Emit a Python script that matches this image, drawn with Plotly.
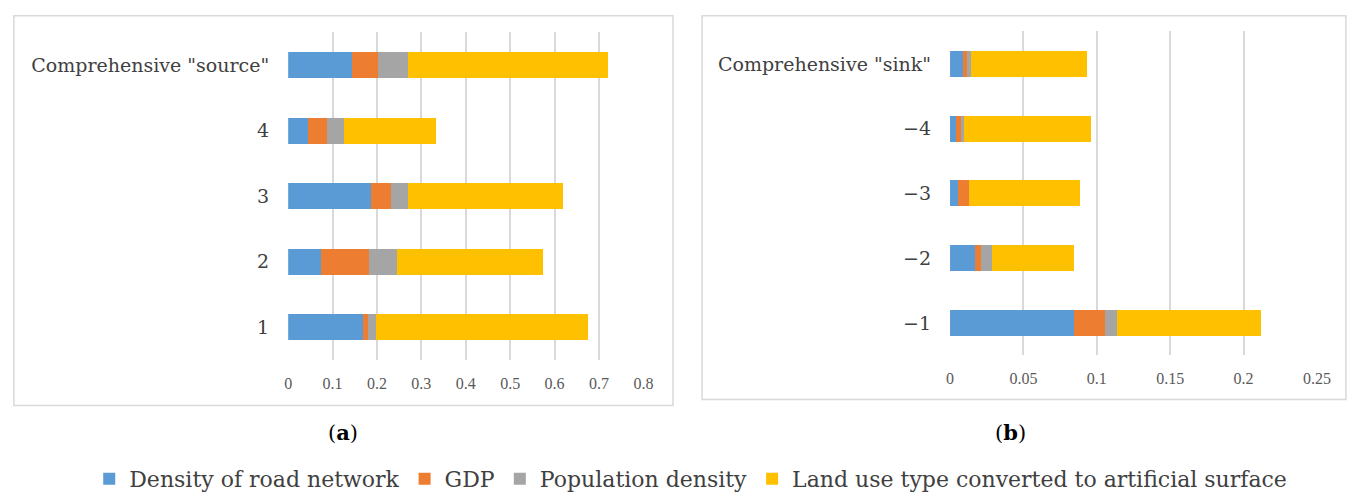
import plotly.graph_objects as go

W, H = 1352, 500

cats_a = ["1", "2", "3", "4", "Comprehensive \"source\""]
road_a = [0.168, 0.074, 0.186, 0.044, 0.143]
gdp_a = [0.012, 0.108, 0.045, 0.044, 0.060]
pop_a = [0.018, 0.063, 0.038, 0.038, 0.066]
land_a = [0.478, 0.329, 0.350, 0.208, 0.452]

cats_b = ["\u22121", "\u22122", "\u22123", "\u22124", "Comprehensive \"sink\""]
road_b = [0.0847, 0.0167, 0.0054, 0.0040, 0.0085]
gdp_b = [0.0207, 0.0046, 0.0077, 0.0037, 0.0030]
pop_b = [0.0083, 0.0071, 0.0000, 0.0017, 0.0030]
land_b = [0.0980, 0.0559, 0.0753, 0.0863, 0.0790]

series_names = ["Density of road network", "GDP", "Population density",
                "Land use type converted to artificial surface"]
colors = ["#5B9BD5", "#ED7D31", "#A5A5A5", "#FFC000"]

SERIF = "Liberation Serif"
WIDE = "DejaVu Serif"

fig = go.Figure()
for i, (name, vals) in enumerate(zip(series_names, [road_a, gdp_a, pop_a, land_a])):
    fig.add_trace(go.Bar(y=cats_a, x=vals, orientation="h", name=name,
                         marker=dict(color=colors[i], line=dict(width=0)),
                         xaxis="x", yaxis="y", legendgroup=name, showlegend=True))
for i, (name, vals) in enumerate(zip(series_names, [road_b, gdp_b, pop_b, land_b])):
    fig.add_trace(go.Bar(y=cats_b, x=vals, orientation="h", name=name,
                         marker=dict(color=colors[i], line=dict(width=0)),
                         xaxis="x2", yaxis="y2", legendgroup=name, showlegend=False))

def px(x):
    return x / W

def py(y):
    return 1 - y / H

grid = "#D9D9D9"
tickfont_x = dict(family=SERIF, size=16, color="#595959")
tickfont_y = dict(family=WIDE, size=19, color="#404040")

fig.update_layout(
    width=W, height=H,
    margin=dict(l=0, r=0, t=0, b=0),
    paper_bgcolor="white", plot_bgcolor="white",
    barmode="stack", bargap=0.6,
    font=dict(family=SERIF),
    xaxis=dict(domain=[px(288), px(648)], range=[0, 0.8], dtick=0.1, tickformat="~g",
               showgrid=True, gridcolor=grid, gridwidth=1.5, zeroline=False,
               showline=False, tickfont=tickfont_x, ticks="", ticklabelstandoff=12,
               anchor="y", fixedrange=True),
    yaxis=dict(domain=[py(366), py(33)], showgrid=False, zeroline=False, showline=False,
               tickfont=tickfont_y, ticks="", ticklabelstandoff=18, anchor="x",
               categoryorder="array", categoryarray=cats_a),
    xaxis2=dict(domain=[px(958.8), px(1330.7)], range=[0, 0.25], dtick=0.05, tickformat="~g",
                showgrid=True, gridcolor=grid, gridwidth=1.5, zeroline=False,
                showline=False, tickfont=tickfont_x, ticks="", ticklabelstandoff=12,
                anchor="y2"),
    yaxis2=dict(domain=[py(361), py(32)], showgrid=False, zeroline=False, showline=False,
                tickfont=tickfont_y, ticks="", ticklabelstandoff=18, anchor="x2",
                categoryorder="array", categoryarray=cats_b),
    legend=dict(orientation="h", x=px(696), xanchor="center", y=py(487), yanchor="middle",
                font=dict(family=WIDE, size=22, color="#404040"), traceorder="normal",
                itemwidth=30, bgcolor="rgba(0,0,0,0)"),
    showlegend=True,
)

fig.add_shape(type="rect", xref="paper", yref="paper",
              x0=px(10), x1=px(678), y0=py(412), y1=py(16),
              line=dict(color="#D9D9D9", width=1.5), fillcolor="rgba(0,0,0,0)", layer="below")
fig.add_shape(type="rect", xref="paper", yref="paper",
              x0=px(707.5), x1=px(1360), y0=py(406), y1=py(16),
              line=dict(color="#D9D9D9", width=1.5), fillcolor="rgba(0,0,0,0)", layer="below")

fig.add_annotation(text="(<b>a</b>)", x=px(344), y=py(440), xref="paper", yref="paper",
                   showarrow=False, font=dict(family=WIDE, size=21, color="black"),
                   xanchor="center", yanchor="middle")
fig.add_annotation(text="(<b>b</b>)", x=px(1020), y=py(440), xref="paper", yref="paper",
                   showarrow=False, font=dict(family=WIDE, size=21, color="black"),
                   xanchor="center", yanchor="middle")

fig.write_html("out.html")
